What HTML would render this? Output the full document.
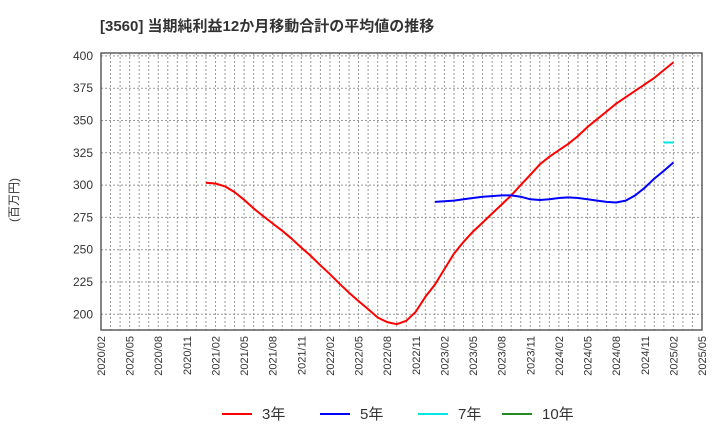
<!DOCTYPE html>
<html><head><meta charset="utf-8"><style>
body{margin:0;background:#fff;font-family:"Liberation Sans","Noto Sans CJK JP",sans-serif;}
</style></head><body>
<svg id="chart" width="720" height="440" xmlns="http://www.w3.org/2000/svg" font-family="Liberation Sans, Noto Sans CJK JP, sans-serif">
<text x="100" y="31" font-size="15" font-weight="bold" fill="#333">[3560]  当期純利益12か月移動合計の平均値の推移</text>
<text transform="translate(18,200) rotate(-90)" text-anchor="middle" font-size="12" fill="#333">(百万円)</text>
<g id="grid"></g><g id="series"></g><g id="axes"></g>
<g font-size="15" fill="#333">
<line x1="222" y1="414" x2="252" y2="414" stroke="#ff0000" stroke-width="2"/><text x="262" y="419">3年</text>
<line x1="320" y1="414" x2="350" y2="414" stroke="#0000ff" stroke-width="2"/><text x="360" y="419">5年</text>
<line x1="418" y1="414" x2="448" y2="414" stroke="#00e5e5" stroke-width="2"/><text x="458" y="419">7年</text>
<line x1="502" y1="414" x2="532" y2="414" stroke="#228b22" stroke-width="2"/><text x="542" y="419">10年</text>
</g>
</svg>
<script>
const yTicks=[200,225,250,275,300,325,350,375,400];
const xTickLabels=["2020/02","2020/05","2020/08","2020/11","2021/02","2021/05","2021/08","2021/11","2022/02","2022/05","2022/08","2022/11","2023/02","2023/05","2023/08","2023/11","2024/02","2024/05","2024/08","2024/11","2025/02","2025/05"];
const red3Start=11;
const red3=[301.8,301.2,299,294.6,288.6,282,276,270.3,264.6,258.4,251.6,245.1,237.9,231,223.7,216.7,210.2,204,197.5,194,192.3,195,202,213.5,223,235,247,256,264,271,278,285,292,300,308,316,322,327,332,338,345,351,357,363,368,373,378,383,389,395];
const blue5Start=35;
const blue5=[287,287.5,288,289,290,291,291.5,292,292,291,289,288.5,289,290,290.5,290,289,288,287,286.5,288,292,298,305,311,317.5];
const cyan7Start=59;
const cyan7=[333,333];
const L=101,R=702,T=53,B=330,months=63;
const X=m=>L+m*(R-L)/months;
const Y=v=>314.3-(v-200)*32.3/25;
const ns="http://www.w3.org/2000/svg";
function mk(tag,attrs,parent){const e=document.createElementNS(ns,tag);for(const k in attrs)e.setAttribute(k,attrs[k]);parent.appendChild(e);return e;}
const grid=document.getElementById('grid'),axes=document.getElementById('axes'),series=document.getElementById('series');
for(let m=1;m<months;m++){const l=mk('line',{x1:X(m),x2:X(m),y1:T,y2:B,stroke:'#999','stroke-dasharray':'2,2','stroke-width':1},grid);

}
yTicks.forEach(v=>{const l=mk('line',{x1:L,x2:R,y1:Y(v),y2:Y(v),stroke:'#999','stroke-dasharray':'2,2','stroke-width':1},grid);


const t=mk('text',{x:L-8,y:Y(v)+4,'text-anchor':'end','font-size':12,fill:'#333'},axes);t.textContent=v;

});
xTickLabels.forEach((s,i)=>{const x=X(i*3);const t=mk('text',{transform:`translate(${x+4},336) rotate(-90)`,'text-anchor':'end','font-size':11,fill:'#333'},axes);t.textContent=s;

});
const fr=mk('rect',{x:L,y:T,width:R-L,height:B-T,fill:'none',stroke:'#444','stroke-width':1.3},axes);


function line(arr,start,color,name){const p=arr.map((v,i)=>`${X(start+i).toFixed(1)},${Y(v).toFixed(1)}`).join(' ');
const e=mk('polyline',{points:p,fill:'none',stroke:color,'stroke-width':2,'stroke-linejoin':'round'},series);

}
line(red3,red3Start,'#ff0000','series-3y');
line(blue5,blue5Start,'#0000ff','series-5y');
line(cyan7,cyan7Start,'#00e5e5','series-7y');
</script>
</body></html>
